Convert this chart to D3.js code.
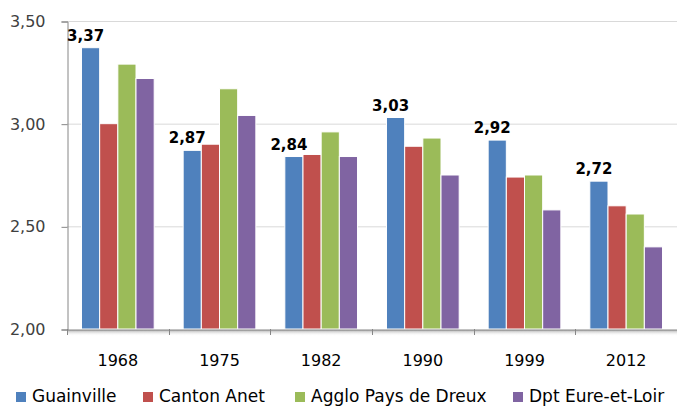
<!DOCTYPE html>
<html><head><meta charset="utf-8">
<script src="https://cdn.jsdelivr.net/npm/d3@7"></script>
<style>body{margin:0;background:#fff}svg{display:block}</style>
</head><body>
<script>
const years = ["1968","1975","1982","1990","1999","2012"];
const seriesNames = ["Guainville","Canton Anet","Agglo Pays de Dreux","Dpt Eure-et-Loir"];
const guainville = [3.37,2.87,2.84,3.03,2.92,2.72];
const cantonAnet = [3.00,2.90,2.85,2.89,2.74,2.60];
const agglo = [3.29,3.17,2.96,2.93,2.75,2.56];
const dpt = [3.22,3.04,2.84,2.75,2.58,2.40];
const yTicks = [2.0,2.5,3.0,3.5];
const colors = ["#4f81bd","#c0504d","#9bbb59","#8064a2"];

const seriesValues = [guainville, cantonAnet, agglo, dpt];
const W = 677, H = 407;
const mLeft = 67, mRight = 677, mTop = 21, mBottom = 329;
const font = "'DejaVu Sans', sans-serif";

const svg = d3.select("body").append("svg").attr("width", W).attr("height", H);
const defs = svg.append("defs");
const grad = defs.append("linearGradient").attr("id","shad").attr("x1",0).attr("y1",0).attr("x2",0).attr("y2",1);
grad.append("stop").attr("offset","0%").attr("stop-color","#9a9a9a").attr("stop-opacity",0.8);
grad.append("stop").attr("offset","100%").attr("stop-color","#ffffff").attr("stop-opacity",0);

const y = d3.scaleLinear().domain([2.0,3.5]).range([mBottom, mTop]);
const x0 = d3.scaleBand().domain(years).range([mLeft, mRight]).paddingInner(0.285).paddingOuter(0.1425);
const x1 = d3.scaleBand().domain(seriesNames).range([0, x0.bandwidth()]).padding(0);

const fmt = v => d3.format(".2f")(v).replace(".", ",");

// gridlines
svg.append("g").selectAll("line").data(yTicks.filter(t => t > 2)).join("line")
  .attr("x1", mLeft).attr("x2", mRight).attr("y1", d => y(d) + 0.5).attr("y2", d => y(d) + 0.5)
  .attr("stroke", "#d9d9d9").attr("stroke-width", 1);

// y axis
const yAxis = d3.axisLeft(y).tickValues(yTicks).tickFormat(fmt).tickSize(6).tickPadding(16);
const gy = svg.append("g").attr("transform", `translate(${mLeft + 0.5},0.5)`).call(yAxis);
gy.select(".domain").attr("stroke", "#868686");
gy.selectAll(".tick line").attr("stroke", "#868686");
gy.selectAll(".tick text").attr("font-family", font).attr("font-size", 16).attr("fill", "#404040");

// bars
const g = svg.append("g");
years.forEach((yr, i) => {
  seriesNames.forEach((s, j) => {
    const v = seriesValues[j][i];
    g.append("rect")
      .attr("x", x0(yr) + x1(s))
      .attr("y", y(v))
      .attr("width", x1.bandwidth())
      .attr("height", y(2.0) - y(v))
      .attr("fill", colors[j])
      .attr("stroke", "#ffffff").attr("stroke-width", 1);
  });
  const v = guainville[i];
  g.append("text")
    .attr("x", x0(yr) + x1(seriesNames[0]) + x1.bandwidth() / 2 - 5)
    .attr("y", y(v) - 7)
    .attr("text-anchor", "middle")
    .attr("font-family", font).attr("font-weight", "bold").attr("font-size", 15)
    .attr("fill", "#000").text(fmt(v));
});

// x axis shadow
svg.append("rect").attr("x", mLeft).attr("y", mBottom + 1).attr("width", mRight - mLeft).attr("height", 6).attr("fill", "url(#shad)");

// x axis
const xAxis = d3.axisBottom(x0).tickSize(0).tickPadding(25);
const gx = svg.append("g").attr("transform", `translate(0,${mBottom + 0.5})`).call(xAxis);
gx.select(".domain").attr("stroke", "#868686");
gx.selectAll(".tick text").attr("font-family", font).attr("font-size", 16).attr("fill", "#000");
const bounds = years.map(yr => x0(yr) - x0.step() * x0.paddingInner() / 2).concat([mRight]);
svg.append("g").selectAll("line").data(bounds).join("line")
  .attr("x1", d => Math.round(d) + 0.5).attr("x2", d => Math.round(d) + 0.5)
  .attr("y1", mBottom).attr("y2", mBottom + 6).attr("stroke", "#868686");

// legend
const legX = [16, 143, 295, 513];
const leg = svg.append("g");
seriesNames.forEach((s, j) => {
  leg.append("rect").attr("x", legX[j]).attr("y", 392).attr("width", 10).attr("height", 10).attr("fill", colors[j]);
  leg.append("text").attr("x", legX[j] + 16).attr("y", 402)
    .attr("font-family", font).attr("font-size", 17).attr("fill", "#000").text(s);
});
</script>
</body></html>
